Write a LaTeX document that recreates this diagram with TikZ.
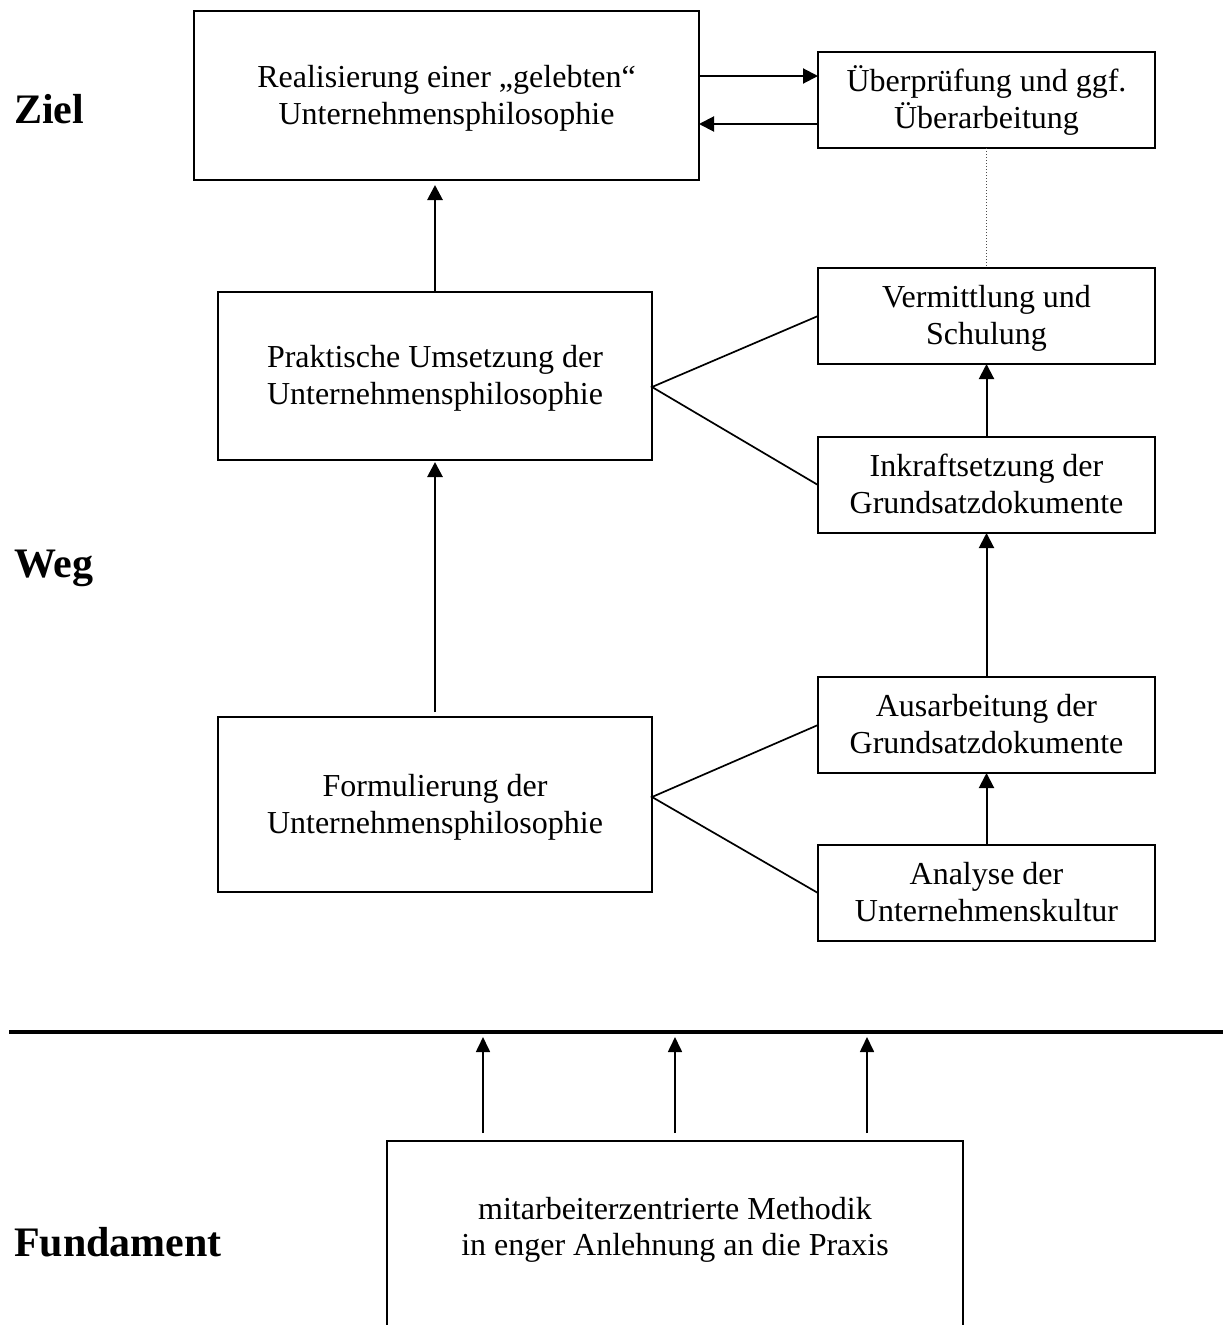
\documentclass[tikz,border=0pt]{standalone}
\usepackage{fontspec}
\setmainfont{Liberation Serif}
\usetikzlibrary{arrows.meta}
\newcommand\lstrut{\rule[-8pt]{0pt}{36.5pt}}
\begin{document}
\begin{tikzpicture}[x=1pt,y=-1pt,
  box/.style={draw, line width=1.8pt, align=center, inner sep=0pt, outer sep=0pt,
              font=\fontsize{32}{36.8}\selectfont},
  txt/.style={align=center, inner sep=0pt, font=\fontsize{32}{36.8}\selectfont},
  heading/.style={inner sep=0pt, anchor=base west, font=\fontsize{42}{48}\selectfont\bfseries},
  thickarrow/.style={line width=2.8pt, -{Triangle[length=15pt,width=15pt]}},
  midarrow/.style={line width=2pt, -{Triangle[length=15pt,width=15pt]}},
  thinarrow/.style={line width=1.7pt, -{Triangle[length=15pt,width=14pt]}},
  fan/.style={line width=1.7pt},
]
\useasboundingbox (0,0) rectangle (1223,1325);

% headings
\node[heading] (ziel) at (14,123) {Ziel};
\node[heading] (weg) at (14,577) {Weg};
\node[heading] (fund) at (14,1256) {Fundament};

% boxes
\node[box, minimum width=505pt, minimum height=169pt] (A) at (446.5,95.5)
  {\lstrut Realisierung einer „gelebten“\\\lstrut Unternehmensphilosophie};
\node[box, minimum width=337pt, minimum height=96pt] (B) at (986.5,100)
  {\lstrut Überprüfung und ggf.\\\lstrut Überarbeitung};
\node[box, minimum width=434pt, minimum height=168pt] (C) at (435,376)
  {\lstrut Praktische Umsetzung der\\\lstrut Unternehmensphilosophie};
\node[box, minimum width=337pt, minimum height=96pt] (D) at (986.5,316)
  {\lstrut Vermittlung und\\\lstrut Schulung};
\node[box, minimum width=337pt, minimum height=96pt] (E) at (986.5,485)
  {\lstrut Inkraftsetzung der\\\lstrut Grundsatzdokumente};
\node[box, minimum width=434pt, minimum height=175pt] (F) at (435,804.5)
  {\lstrut Formulierung der\\\lstrut Unternehmensphilosophie};
\node[box, minimum width=337pt, minimum height=96pt] (G) at (986.5,725)
  {\lstrut Ausarbeitung der\\\lstrut Grundsatzdokumente};
\node[box, minimum width=337pt, minimum height=96pt] (H) at (986.5,893)
  {\lstrut Analyse der\\\lstrut Unternehmenskultur};

% bottom (open) box
\node[box, draw=none, minimum width=576pt, minimum height=199pt] (M) at (675,1240.5) {};
\draw[line width=1.8pt] (M.south west) -- (M.north west) -- (M.north east) -- (M.south east);
\node[txt] (Mt) at (675,1227.2) {\lstrut mitarbeiterzentrierte Methodik\\\lstrut in enger Anlehnung an die Praxis};

% connectors
\draw[thickarrow, shorten >=5pt] (C.north) -- (C.north |- A.south);
\draw[thickarrow, shorten <=5pt, shorten >=2pt] (F.north) -- (C.south);
\draw[midarrow] ([yshift=19.5pt]A.east) -- ([yshift=24pt]B.west);
\draw[midarrow] ([yshift=-24pt]B.west) -- ([yshift=-28.5pt]A.east);
\draw[dotted, line width=1pt, black!70] (B.south) -- (D.north);
\draw[midarrow] (E.north) -- (D.south);
\draw[midarrow] (G.north) -- (E.south);
\draw[midarrow] (H.north) -- (G.south);
\draw[fan] (D.west) -- ([yshift=-11pt]C.east) -- (E.west);
\draw[fan] (G.west) -- ([yshift=7.5pt]F.east) -- (H.west);

% ground line and arrows
\coordinate (L0) at (9,1032);
\coordinate (L1) at (1223,1032);
\draw[line width=4pt] (L0) -- (L1);
\coordinate (t1) at (483,1037);
\coordinate (t2) at (675,1037);
\coordinate (t3) at (867,1037);
\draw[thinarrow, shorten <=8pt] (M.north -| t1) -- (t1);
\draw[thinarrow, shorten <=8pt] (M.north -| t2) -- (t2);
\draw[thinarrow, shorten <=8pt] (M.north -| t3) -- (t3);
\end{tikzpicture}
\end{document}
